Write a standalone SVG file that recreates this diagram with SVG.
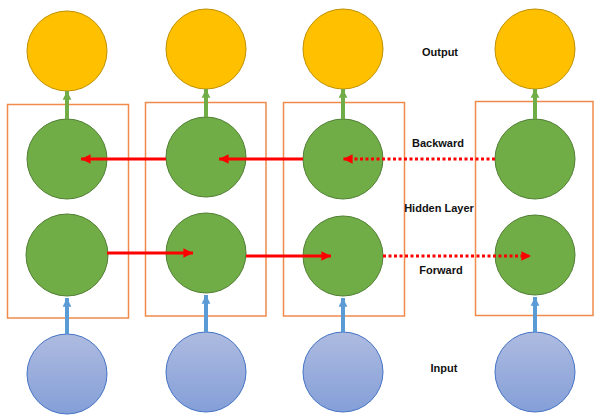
<svg xmlns="http://www.w3.org/2000/svg" width="595" height="418" viewBox="0 0 595 418">
  <style>
    .out { fill: #FFC000; stroke: #BF9000; stroke-width: 1; }
    .hid { fill: #70AD47; stroke: #507E32; stroke-width: 1; }
    .inp { fill: url(#inGrad); stroke: #4472C4; stroke-width: 1; }
    .box { fill: none; stroke: #F08A4B; stroke-width: 1.5; }
    .lbl { font-family: "Liberation Sans", Arial, sans-serif; font-weight: bold; font-size: 11px; fill: #111; text-anchor: middle; }
    .red { stroke: #FF0000; stroke-width: 3; fill: none; }
    .dot { stroke: #FF0000; stroke-width: 3; fill: none; stroke-dasharray: 3 2.5; }
    .up-g { stroke: #70AD47; stroke-width: 4; fill: none; }
    .up-b { stroke: #5B9BD5; stroke-width: 4; fill: none; }
  </style>
  <defs>
    <linearGradient id="inGrad" x1="0" y1="0" x2="0" y2="1">
      <stop offset="0" stop-color="#AEBBE0"/>
      <stop offset="1" stop-color="#849FD8"/>
    </linearGradient>
    <marker id="arrRed" viewBox="0 0 10 10" refX="10" refY="5" markerWidth="3.4" markerHeight="3.2" orient="auto" markerUnits="strokeWidth">
      <path d="M0,0 L10,5 L0,10 z" fill="#FF0000"/>
    </marker>
    <marker id="arrGreen" viewBox="0 0 10 10" refX="10" refY="5" markerWidth="2.2" markerHeight="2.4" orient="auto" markerUnits="strokeWidth">
      <path d="M0,0 L10,5 L0,10 z" fill="#70AD47"/>
    </marker>
    <marker id="arrBlue" viewBox="0 0 10 10" refX="10" refY="5" markerWidth="2.2" markerHeight="2.4" orient="auto" markerUnits="strokeWidth">
      <path d="M0,0 L10,5 L0,10 z" fill="#5B9BD5"/>
    </marker>
  </defs>

  <!-- time-step frames -->
  <g id="frames">
    <rect class="box" x="7.5" y="104.5" width="121" height="213.5"/>
    <rect class="box" x="145.5" y="102.5" width="120.5" height="213.5"/>
    <rect class="box" x="283.5" y="102.5" width="121" height="213.5"/>
    <rect class="box" x="475.5" y="101.5" width="117.5" height="214"/>
  </g>

  <!-- output nodes -->
  <g id="out1"><circle class="out" cx="67" cy="51" r="40"/></g>
  <g id="out2"><circle class="out" cx="206" cy="49" r="40"/></g>
  <g id="out3"><circle class="out" cx="343" cy="49" r="40"/></g>
  <g id="out4"><circle class="out" cx="535" cy="49" r="40"/></g>

  <!-- hidden nodes, backward -->
  <g id="back1"><circle class="hid" cx="67" cy="159" r="40"/></g>
  <g id="back2"><circle class="hid" cx="206" cy="157" r="40"/></g>
  <g id="back3"><circle class="hid" cx="343" cy="159" r="40"/></g>
  <g id="back4"><circle class="hid" cx="535" cy="159" r="40"/></g>

  <!-- hidden nodes, forward -->
  <g id="fwd1"><circle class="hid" cx="67" cy="255" r="41"/></g>
  <g id="fwd2"><circle class="hid" cx="206" cy="253" r="40"/></g>
  <g id="fwd3"><circle class="hid" cx="343" cy="256" r="40"/></g>
  <g id="fwd4"><circle class="hid" cx="535" cy="255" r="40"/></g>

  <!-- input nodes -->
  <g id="in1"><circle class="inp" cx="67" cy="374" r="40"/></g>
  <g id="in2"><circle class="inp" cx="206" cy="372" r="40"/></g>
  <g id="in3"><circle class="inp" cx="343" cy="372" r="40"/></g>
  <g id="in4"><circle class="inp" cx="535" cy="372" r="40"/></g>

  <!-- connectors, drawn over the nodes so heads land inside the circles -->
  <g id="connectors">
    <!-- hidden to output -->
    <line class="up-g" x1="67" y1="119" x2="67" y2="91" marker-end="url(#arrGreen)"/>
    <line class="up-g" x1="206" y1="117" x2="206" y2="89" marker-end="url(#arrGreen)"/>
    <line class="up-g" x1="343" y1="119" x2="343" y2="89" marker-end="url(#arrGreen)"/>
    <line class="up-g" x1="535" y1="119" x2="535" y2="89" marker-end="url(#arrGreen)"/>
    <!-- input to hidden -->
    <line class="up-b" x1="67" y1="334" x2="67" y2="298" marker-end="url(#arrBlue)"/>
    <line class="up-b" x1="206" y1="332" x2="206" y2="295" marker-end="url(#arrBlue)"/>
    <line class="up-b" x1="343" y1="332" x2="343" y2="298" marker-end="url(#arrBlue)"/>
    <line class="up-b" x1="535" y1="332" x2="535" y2="297" marker-end="url(#arrBlue)"/>
    <!-- backward pass -->
    <line class="red" x1="166" y1="159" x2="81" y2="159" marker-end="url(#arrRed)"/>
    <line class="red" x1="303" y1="159" x2="219" y2="159" marker-end="url(#arrRed)"/>
    <line class="dot" x1="495" y1="159" x2="343" y2="159" marker-end="url(#arrRed)"/>
    <!-- forward pass -->
    <line class="red" x1="107" y1="253" x2="193" y2="253" marker-end="url(#arrRed)"/>
    <line class="red" x1="246" y1="256" x2="331" y2="256" marker-end="url(#arrRed)"/>
    <line class="dot" x1="383" y1="256" x2="531" y2="256" marker-end="url(#arrRed)"/>
  </g>

  <!-- layer labels -->
  <g id="labels">
    <text class="lbl" x="440" y="56">Output</text>
    <text class="lbl" x="438" y="147">Backward</text>
    <text class="lbl" x="439" y="212">Hidden Layer</text>
    <text class="lbl" x="441" y="274">Forward</text>
    <text class="lbl" x="444" y="372">Input</text>
  </g>
</svg>
